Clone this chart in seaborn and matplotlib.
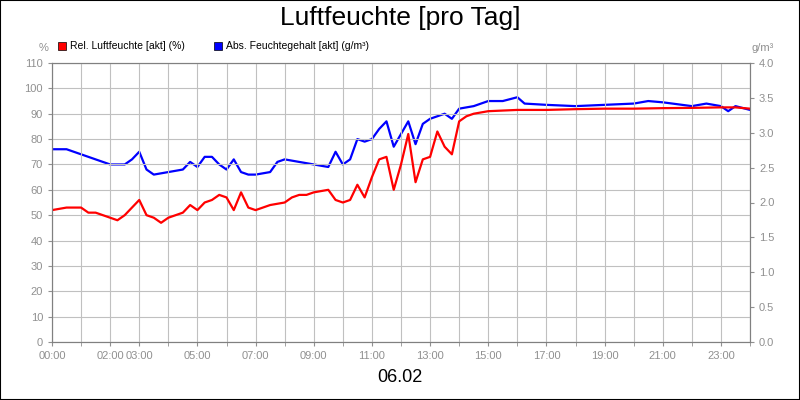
import matplotlib
matplotlib.use("Agg")
import matplotlib.pyplot as plt
import seaborn as sns
import numpy as np
import pandas as pd

plt.rcParams["font.family"] = "Liberation Sans"

hours_red = [0,0.5,1,1.25,1.5,2,2.25,2.5,2.75,3,3.25,3.5,3.75,4,4.5,4.75,5,5.25,5.5,5.75,6,6.25,6.5,6.75,7,7.5,8,8.25,8.5,8.75,9,9.5,9.75,10,10.25,10.5,10.75,11,11.25,11.5,11.75,12,12.25,12.5,12.75,13,13.25,13.5,13.75,14,14.25,14.5,15,16,17,18,19,20,21,22,23,23.5,24]
rel_humidity = [52,53,53,51,51,49,48,50,53,56,50,49,47,49,51,54,52,55,56,58,57,52,59,53,52,54,55,57,58,58,59,60,56,55,56,62,57,65,72,73,60,70,82,63,72,73,83,77,74,87,89,90,91,91.5,91.5,91.8,92,92,92.2,92.3,92.5,92.5,92]

hours_abs = [0,0.5,1,1.5,2,2.5,2.75,3,3.25,3.5,4,4.5,4.75,5,5.25,5.5,5.75,6,6.25,6.5,6.75,7,7.5,7.75,8,8.5,9,9.5,9.75,10,10.25,10.5,10.75,11,11.25,11.5,11.75,12,12.25,12.5,12.75,13,13.25,13.5,13.75,14,14.5,15,15.5,16,16.25,17,18,19,20,20.5,21,22,22.5,23,23.25,23.5,24]
abs_pct = [76,76,74,72,70,70,72,75,68,66,67,68,71,69,73,73,70,68,72,67,66,66,67,71,72,71,70,69,75,70,72,80,79,80,84,87,77,82,87,78,86,88,89,90,88,92,93,95,95,96.5,94,93.5,93,93.5,94,95,94.5,93,94,93,91,93,91.5]
abs_gm3 = [v / 27.5 for v in abs_pct]

tick_hours = [0,2,3,5,7,9,11,13,15,17,19,21,23]
tick_labels = ["00:00","02:00","03:00","05:00","07:00","09:00","11:00","13:00","15:00","17:00","19:00","21:00","23:00"]

df_r = pd.DataFrame({"h": hours_red, "v": rel_humidity})
df_a = pd.DataFrame({"h": hours_abs, "v": abs_gm3})

fig = plt.figure(figsize=(8, 4), dpi=100)
fig.patches.append(plt.Rectangle((0, 0), 1, 1, transform=fig.transFigure, fill=False, ec="black", lw=1.5))
ax = fig.add_axes([0.065, 0.145, 0.8725, 0.6975])
ax2 = ax.twinx()
ax.set_zorder(ax2.get_zorder() + 1)
ax.patch.set_visible(False)

sns.lineplot(data=df_a, x="h", y="v", ax=ax2, color="#0000ff", lw=1.6)
sns.lineplot(data=df_r, x="h", y="v", ax=ax, color="#ff0000", lw=1.6)

ax.set_xlim(0, 24)
ax.set_ylim(0, 110)
ax2.set_ylim(0, 4.0)
ax.set_yticks(np.arange(0, 111, 10))
ax2.set_yticks(np.arange(0, 4.01, 0.5))
ax2.set_yticklabels([f"{v:.1f}" for v in np.arange(0, 4.01, 0.5)])
ax.set_xticks(range(0, 25), minor=True)
ax.set_xticks(tick_hours)
ax.set_xticklabels(tick_labels)
ax.grid(True, which="both", color="#c0c0c0", lw=0.8)
ax.set_axisbelow(True)
for a in (ax, ax2):
    a.set_xlabel("")
    a.set_ylabel("")
    a.tick_params(labelsize=8, labelcolor="#909090", color="#909090", length=3)
    for s in a.spines.values():
        s.set_color("#808080")
ax.tick_params(which="minor", length=3, color="#909090")

fig.text(0.5, 0.955, "Luftfeuchte [pro Tag]", ha="center", va="center", fontsize=19)
fig.text(0.5, 0.055, "06.02", ha="center", va="center", fontsize=13)
fig.text(0.048, 0.88, "%", ha="left", va="center", fontsize=8, color="#909090")
fig.text(0.94, 0.88, "g/m³", ha="left", va="center", fontsize=8, color="#909090")
fig.patches.append(plt.Rectangle((0.073, 0.875), 0.01, 0.02, transform=fig.transFigure, fc="#ff0000", ec="black", lw=0.5))
fig.text(0.087, 0.885, "Rel. Luftfeuchte [akt] (%)", ha="left", va="center", fontsize=7.5)
fig.patches.append(plt.Rectangle((0.268, 0.875), 0.01, 0.02, transform=fig.transFigure, fc="#0000ff", ec="black", lw=0.5))
fig.text(0.282, 0.885, "Abs. Feuchtegehalt [akt] (g/m³)", ha="left", va="center", fontsize=7.5)

fig.savefig("out.png", dpi=100)
